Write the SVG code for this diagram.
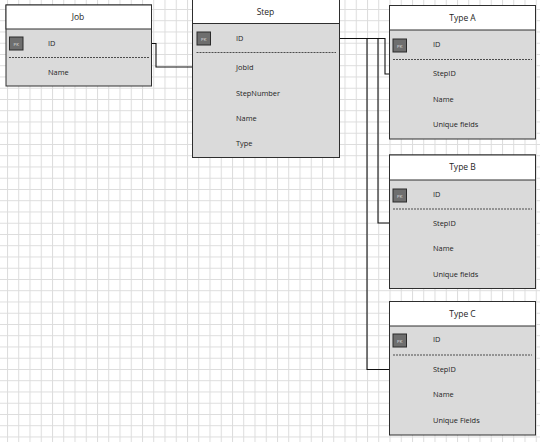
<svg xmlns="http://www.w3.org/2000/svg" width="540" height="442" viewBox="0 0 540 442">
<defs>
<pattern id="grid" patternUnits="userSpaceOnUse" x="7" y="9" width="11.25" height="11.25">
<path d="M0.5 0V11.25M0 0.5H11.25" fill="none" stroke="#dcdcdc" stroke-width="1"/>
</pattern>
<g id="pk">
<rect x="0" y="0" width="13.5" height="13" fill="#6e6e6e" stroke="#2a2a2a" stroke-width="1"/>
<text x="6.75" y="8.6" font-family="'DejaVu Sans', sans-serif" font-size="4.2" fill="#ddd" text-anchor="middle">PK</text>
</g>
</defs>
<style>
.hdr{fill:#ffffff;stroke:#2e2e2e;stroke-width:1}
.body{fill:#dadada;stroke:#2e2e2e;stroke-width:1}
.title{font-family:'Open Sans','Noto Sans',sans-serif;font-size:8.5px;fill:#1e1e1e;text-anchor:middle}
.f{font-family:'Open Sans','Noto Sans',sans-serif;font-size:7.4px;fill:#1e1e1e}
.dash{stroke:#3c3c3c;stroke-width:0.9;stroke-dasharray:2 1;fill:none}
.conn{fill:none;stroke:#111;stroke-width:1.1}
</style>
<rect width="540" height="442" fill="#ffffff"/>
<rect width="540" height="442" fill="url(#grid)"/>

<g id="connectors">
<path class="conn" d="M148 43.5H156V67H197"/>
<path class="conn" d="M336 38.5H385V74H393"/>
<path class="conn" d="M378 38.5V223H393"/>
<path class="conn" d="M367 38.5V369.5H393"/>
</g>

<g id="job">
<rect class="body" x="6" y="5" width="145.5" height="81"/>
<rect class="hdr" x="6" y="5" width="145.5" height="24"/>
<text class="title" x="78" y="19.5">Job</text>
<use href="#pk" x="9.5" y="37"/>
<text class="f" x="48" y="46">ID</text>
<line class="dash" x1="9" y1="57.5" x2="149" y2="57.5"/>
<text class="f" x="48" y="75">Name</text>
</g>

<g id="step">
<rect class="body" x="192.5" y="-1" width="147" height="158.5"/>
<rect class="hdr" x="192.5" y="-1" width="147" height="24.5"/>
<text class="title" x="265.5" y="14.5">Step</text>
<use href="#pk" x="197" y="32"/>
<text class="f" x="236" y="40.5">ID</text>
<line class="dash" x1="196.5" y1="52.5" x2="336" y2="52.5"/>
<text class="f" x="236" y="69.5">JobId</text>
<text class="f" x="236" y="95.5">StepNumber</text>
<text class="f" x="236" y="120.5">Name</text>
<text class="f" x="236" y="146">Type</text>
</g>

<g id="typeA">
<rect class="body" x="389.5" y="5.5" width="146" height="133.5"/>
<rect class="hdr" x="389.5" y="5.5" width="146" height="24.5"/>
<text class="title" x="462.5" y="20.5">Type A</text>
<use href="#pk" x="393" y="39"/>
<text class="f" x="433" y="47">ID</text>
<line class="dash" x1="393" y1="59.5" x2="532" y2="59.5"/>
<text class="f" x="433" y="76">StepID</text>
<text class="f" x="433" y="101.5">Name</text>
<text class="f" x="433" y="127">Unique fields</text>
</g>

<g id="typeB">
<rect class="body" x="389.5" y="155" width="146" height="133.5"/>
<rect class="hdr" x="389.5" y="155" width="146" height="25"/>
<text class="title" x="462.5" y="170">Type B</text>
<use href="#pk" x="393" y="189"/>
<text class="f" x="433" y="196.5">ID</text>
<line class="dash" x1="393" y1="209" x2="532" y2="209"/>
<text class="f" x="433" y="225.5">StepID</text>
<text class="f" x="433" y="251">Name</text>
<text class="f" x="433" y="277">Unique fields</text>
</g>

<g id="typeC">
<rect class="body" x="389.5" y="301.5" width="146" height="133.5"/>
<rect class="hdr" x="389.5" y="301.5" width="146" height="24.5"/>
<text class="title" x="462.5" y="316.5">Type C</text>
<use href="#pk" x="393" y="334"/>
<text class="f" x="433" y="342">ID</text>
<line class="dash" x1="393" y1="355" x2="532" y2="355"/>
<text class="f" x="433" y="371.5">StepID</text>
<text class="f" x="433" y="397">Name</text>
<text class="f" x="433" y="422.5">Unique Fields</text>
</g>
</svg>
